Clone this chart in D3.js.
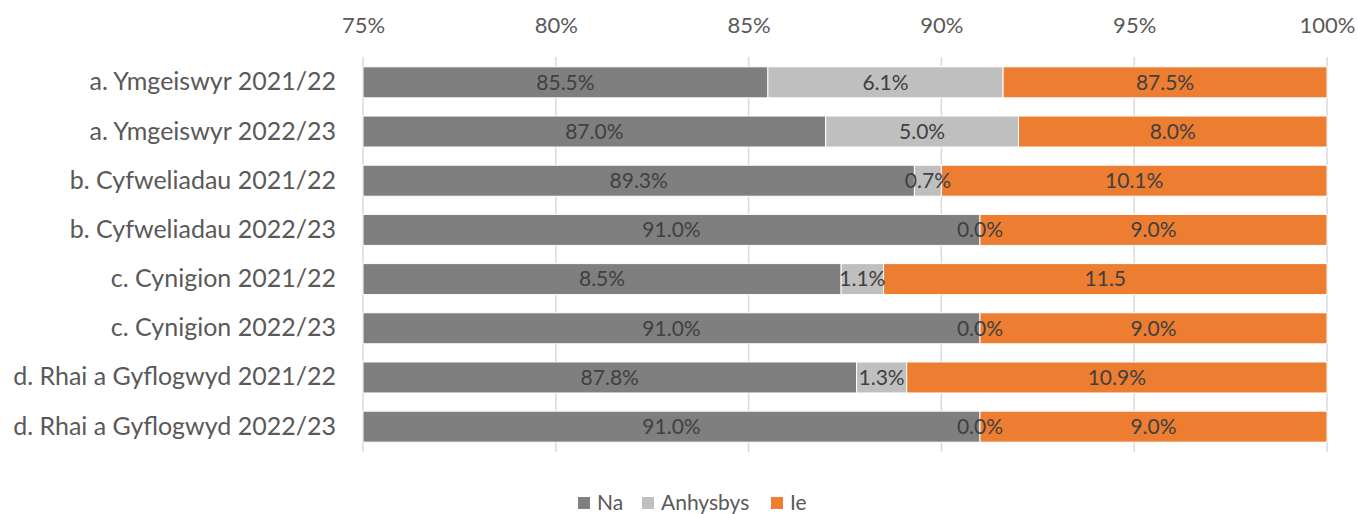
<!DOCTYPE html>
<html>
<head>
<meta charset="utf-8">
<script src="https://cdn.jsdelivr.net/npm/d3@7"></script>
<style>
  body { margin: 0; background: #fff; }
  svg text { font-family: Lato, "Open Sans", sans-serif; }
</style>
</head>
<body>
<svg width="1358" height="514"></svg>
<script>
// --- data ---
const categories = [
  "a. Ymgeiswyr 2021/22", "a. Ymgeiswyr 2022/23",
  "b. Cyfweliadau 2021/22", "b. Cyfweliadau 2022/23",
  "c. Cynigion 2021/22", "c. Cynigion 2022/23",
  "d. Rhai a Gyflogwyd 2021/22", "d. Rhai a Gyflogwyd 2022/23"
];
const seriesNames = ["Na", "Anhysbys", "Ie"];
const naValues  = [85.5, 87.0, 89.3, 91.0, 87.4, 91.0, 87.8, 91.0];
const anhValues = [6.1, 5.0, 0.7, 0.0, 1.1, 0.0, 1.3, 0.0];
const ieValues  = [8.4, 8.0, 10.1, 9.0, 11.5, 9.0, 10.9, 9.0];
// labels as printed on the chart (some don't match the bars)
const naLabels  = ["85.5%", "87.0%", "89.3%", "91.0%", "8.5%", "91.0%", "87.8%", "91.0%"];
const anhLabels = ["6.1%", "5.0%", "0.7%", "0.0%", "1.1%", "0.0%", "1.3%", "0.0%"];
const ieLabels  = ["87.5%", "8.0%", "10.1%", "9.0%", "11.5", "9.0%", "10.9%", "9.0%"];
const tickValues = [75, 80, 85, 90, 95, 100];

const colors = ["#7f7f7f", "#bfbfbf", "#ed7d31"];

// --- setup ---
const svg = d3.select("svg");
const margin = { left: 363, right: 31, top: 57, bottom: 62 };
const width = 1358, height = 514;

const x = d3.scaleLinear().domain([75, 100]).range([margin.left, width - margin.right]).clamp(true);
const y = d3.scaleBand().domain(categories).range([margin.top, height - margin.bottom]).paddingInner(0.37).paddingOuter(0.2);

const rows = categories.map((c, i) => ({
  cat: c,
  vals: [naValues[i], anhValues[i], ieValues[i]],
  labels: [naLabels[i], anhLabels[i], ieLabels[i]]
}));

// gridlines
svg.append("g")
  .selectAll("line")
  .data(tickValues)
  .join("line")
  .attr("x1", d => x(d)).attr("x2", d => x(d))
  .attr("y1", margin.top).attr("y2", height - margin.bottom)
  .attr("stroke", "#d9d9d9").attr("stroke-width", 1.5);

// top axis
const xAxis = svg.append("g")
  .attr("transform", `translate(0,${margin.top})`)
  .call(d3.axisTop(x).tickValues(tickValues).tickFormat(d => d + "%").tickSize(0).tickPadding(24));
xAxis.select(".domain").remove();
xAxis.selectAll("text").attr("font-size", 22).attr("fill", "#595959")
  .style("font-family", "Lato, sans-serif");

// category axis
const yAxis = svg.append("g")
  .attr("transform", `translate(${margin.left},0)`)
  .call(d3.axisLeft(y).tickSize(0).tickPadding(27));
yAxis.select(".domain").remove();
yAxis.selectAll("text").attr("font-size", 25).attr("fill", "#595959")
  .style("font-family", "Lato, sans-serif");

// segments, computed once so labels can sit on top of every bar
const segs = [];
rows.forEach(r => {
  let start = 0;
  r.vals.forEach((v, k) => {
    segs.push({ cat: r.cat, k, x0: x(start), x1: x(start + v), label: r.labels[k] });
    start += v;
  });
});

svg.append("g").selectAll("rect")
  .data(segs).join("rect")
  .attr("x", d => d.x0).attr("y", d => y(d.cat))
  .attr("width", d => Math.max(0, d.x1 - d.x0)).attr("height", y.bandwidth())
  .attr("fill", d => colors[d.k])
  .attr("stroke", "#fff").attr("stroke-width", 1);

svg.append("g").selectAll("text")
  .data(segs).join("text")
  .attr("x", d => (d.x0 + d.x1) / 2)
  .attr("y", d => y(d.cat) + y.bandwidth() / 2)
  .attr("dy", "0.35em")
  .attr("text-anchor", "middle")
  .attr("font-size", 21)
  .attr("fill", "#404040")
  .text(d => d.label);

// legend
const legend = svg.append("g").attr("transform", `translate(0,${height - 11})`);
const legendX = [578, 642, 771];
seriesNames.forEach((name, k) => {
  legend.append("rect")
    .attr("x", legendX[k]).attr("y", -6).attr("width", 12).attr("height", 12)
    .attr("fill", colors[k]);
  legend.append("text")
    .attr("x", legendX[k] + 19).attr("y", 0).attr("dy", "0.35em")
    .attr("font-size", 21).attr("fill", "#595959")
    .text(name);
});
</script>
</body>
</html>
